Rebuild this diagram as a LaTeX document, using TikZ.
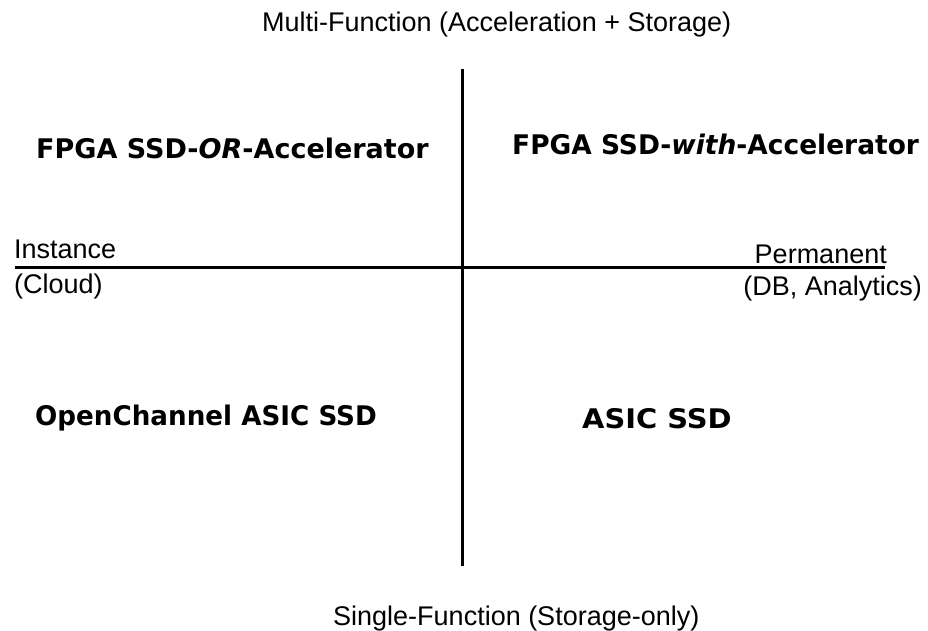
\documentclass[tikz,border=0pt]{standalone}
\usepackage{fontspec}
\usepackage{graphicx}
\setmainfont{Liberation Sans}
\newfontfamily\boldfam{DejaVu Sans}
\begin{document}
\begin{tikzpicture}[x=1pt,y=-1pt,
  axis/.style={line width=3.5pt,black},
  lab/.style={inner sep=0pt,font=\fontsize{27}{30}\selectfont},
  quad/.style={inner sep=0pt,font=\boldfam\bfseries\fontsize{27}{30}\selectfont}]
\useasboundingbox[fill=white] (0,0) rectangle (928,630);
% axes
\coordinate (vt) at (462.5,69);
\coordinate (vb) at (462.5,566);
\coordinate (hl) at (15,267.5);
\coordinate (hr) at (885,267.5);
\draw[axis] (vt) -- (vb);
\draw[axis] (hl) -- (hr);
% axis labels
\node[lab,anchor=base west] (multi) at (262,31) {Multi-Function (Acceleration + Storage)};
\node[lab,anchor=base west] (single) at (333,625) {Single-Function (Storage-only)};
\node[lab,anchor=base west] (inst) at (14,258) {Instance};
\node[lab,anchor=base west] (cloud) at (14,293) {(Cloud)};
\node[lab,anchor=base east] (perm) at (887,263) {Permanent};
\node[lab,anchor=base east] (db) at (922,295) {(DB, Analytics)};
% quadrant labels
\node[quad,anchor=base west] (q1) at (36,158) {FPGA SSD-\textit{OR}-Accelerator};
\node[quad,anchor=base west] (q2) at (512,154) {\scalebox{0.98}[1]{FPGA SSD-\textit{with}-Accelerator}};
\node[quad,anchor=base west] (q3) at (35,425) {\scalebox{0.97}[1]{OpenChannel ASIC SSD}};
\node[quad,anchor=base west] (q4) at (582,428) {\scalebox{1.07}[1]{ASIC SSD}};
\end{tikzpicture}
\end{document}
